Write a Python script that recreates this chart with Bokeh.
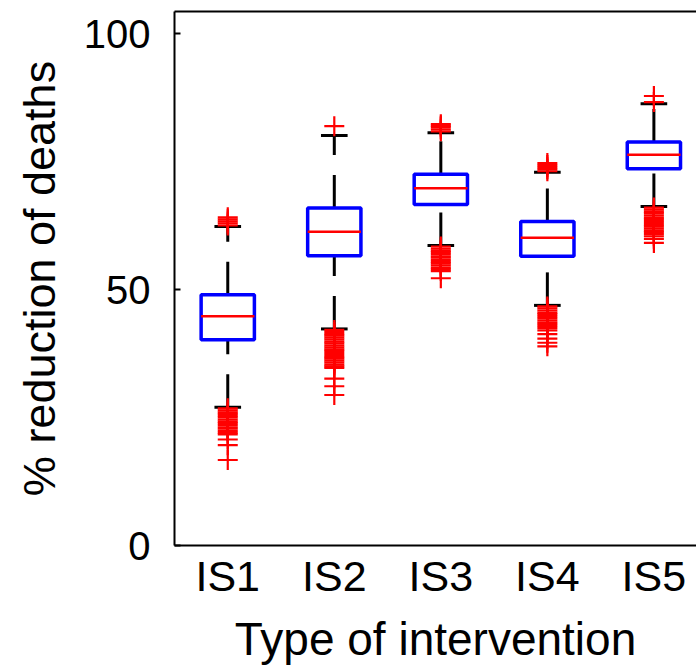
from bokeh.plotting import figure
from bokeh.models import Range1d, FixedTicker, LinearAxis
from bokeh.embed import file_html
from bokeh.resources import INLINE

# ---- data ----
cats = ["IS1", "IS2", "IS3", "IS4", "IS5"]
q1 = [40.2, 56.6, 66.6, 56.5, 73.6]
medians = [44.8, 61.3, 69.8, 60.1, 76.3]
q3 = [49.0, 65.9, 72.5, 63.3, 78.8]
lower_adj = [27.0, 42.3, 58.6, 46.9, 66.2]
upper_adj = [62.3, 80.1, 80.6, 72.9, 86.3]

out_is1 = [62.5, 62.9, 63.3, 63.7, 64.1,
           26.8, 26.4, 26.0, 25.7, 25.3, 25.0, 24.6, 24.2, 23.9, 23.5, 23.1, 22.8, 22.4, 22.0, 21.7,
           20.7, 19.6, 16.7]
out_is2 = [81.9,
           42.1, 41.7, 41.3, 41.0, 40.6, 40.2, 39.8, 39.5, 39.1, 38.7, 38.3, 38.0, 37.6, 37.2, 36.8,
           36.5, 36.1, 35.7, 35.3, 35.0, 34.7, 32.6, 31.1, 29.4]
out_is3 = [80.9, 81.3, 81.7, 82.0, 82.3,
           58.4, 58.0, 57.6, 57.3, 56.9, 56.5, 56.2, 55.8, 55.4, 55.1, 54.7, 54.3, 54.0, 53.6, 52.2]
out_is4 = [73.1, 73.5, 73.9, 74.3, 74.7,
           46.7, 46.3, 45.9, 45.5, 45.2, 44.8, 44.4, 44.0, 43.6, 43.3, 42.9, 42.5, 42.0, 41.3,
           40.4, 39.6, 38.9]
out_is5 = [86.6, 87.8,
           66.0, 65.6, 65.2, 64.9, 64.5, 64.1, 63.8, 63.4, 63.0, 62.6, 62.3, 61.9, 61.5, 61.2,
           60.8, 60.4, 59.9, 59.1]
outliers = [out_is1, out_is2, out_is3, out_is4, out_is5]

yticks = [0, 50, 100]
x_title = "Type of intervention"
y_title = "% reduction of deaths"

# ---- derived positions ----
xs = [i + 1 for i in range(len(cats))]
box_half = 0.25
cap_half = 0.125

FONT = "Liberation Sans"

p = figure(width=696, height=668, output_backend="svg", toolbar_location=None,
           x_range=Range1d(0.5, 5.40), y_range=Range1d(0, 104.3),
           min_border_left=174, min_border_right=0, min_border_top=11, min_border_bottom=123)
p.outline_line_color = None
p.grid.visible = False
p.background_fill_color = "white"
p.border_fill_color = "white"

# whiskers (dashed, drawn from the lower end upward)
p.segment(x0=xs, y0=q3, x1=xs, y1=upper_adj, line_color="black", line_width=3, line_dash="33 20")
p.segment(x0=xs, y0=lower_adj, x1=xs, y1=q1, line_color="black", line_width=3, line_dash="33 20")
# caps
p.segment(x0=[x - cap_half for x in xs], y0=upper_adj, x1=[x + cap_half for x in xs], y1=upper_adj,
          line_color="black", line_width=3)
p.segment(x0=[x - cap_half for x in xs], y0=lower_adj, x1=[x + cap_half for x in xs], y1=lower_adj,
          line_color="black", line_width=3)
# boxes
p.quad(left=[x - box_half for x in xs], right=[x + box_half for x in xs], bottom=q1, top=q3,
       fill_color=None, line_color="#0000ff", line_width=3.5)
# medians
p.segment(x0=[x - box_half for x in xs], y0=medians, x1=[x + box_half for x in xs], y1=medians,
          line_color="#ff0000", line_width=2.5)
# outliers
ox, oy = [], []
for x, vals in zip(xs, outliers):
    ox.extend([x] * len(vals))
    oy.extend(vals)
p.scatter(ox, oy, marker="cross", size=20, line_color="#ff0000", line_width=2.2)

# axes
yax = p.yaxis[0]
yax.ticker = FixedTicker(ticks=yticks)
yax.axis_label = y_title
yax.axis_label_text_font = FONT
yax.axis_label_text_font_size = "45px"
yax.axis_label_text_font_style = "normal"
yax.axis_label_text_color = "black"
yax.axis_label_standoff = 16
yax.major_label_text_font = FONT
yax.major_label_text_font_size = "40px"
yax.major_label_text_color = "black"
yax.major_label_standoff = 24
yax.major_tick_in = 6
yax.major_tick_out = 0
yax.major_tick_line_width = 2
yax.minor_tick_line_color = None
yax.axis_line_width = 2
yax.axis_line_color = "black"

xax = p.xaxis[0]
xax.ticker = FixedTicker(ticks=xs)
xax.major_label_overrides = {x: c for x, c in zip(xs, cats)}
xax.axis_label = x_title
xax.axis_label_text_font = FONT
xax.axis_label_text_font_size = "46px"
xax.axis_label_text_font_style = "normal"
xax.axis_label_text_color = "black"
xax.axis_label_standoff = 10
xax.major_label_text_font = FONT
xax.major_label_text_font_size = "43px"
xax.major_label_text_color = "black"
xax.major_label_standoff = 6
xax.major_tick_in = 0
xax.major_tick_out = 0
xax.major_tick_line_color = None
xax.minor_tick_line_color = None
xax.axis_line_width = 2
xax.axis_line_color = "black"

top = LinearAxis(major_label_text_font_size="0px", major_tick_line_color=None,
                 minor_tick_line_color=None, major_tick_in=0, major_tick_out=0,
                 minor_tick_in=0, minor_tick_out=0, major_label_standoff=0,
                 axis_line_width=2, axis_line_color="black")
top.ticker = FixedTicker(ticks=[])
p.add_layout(top, "above")

open("out.html", "w").write(file_html(p, INLINE))
